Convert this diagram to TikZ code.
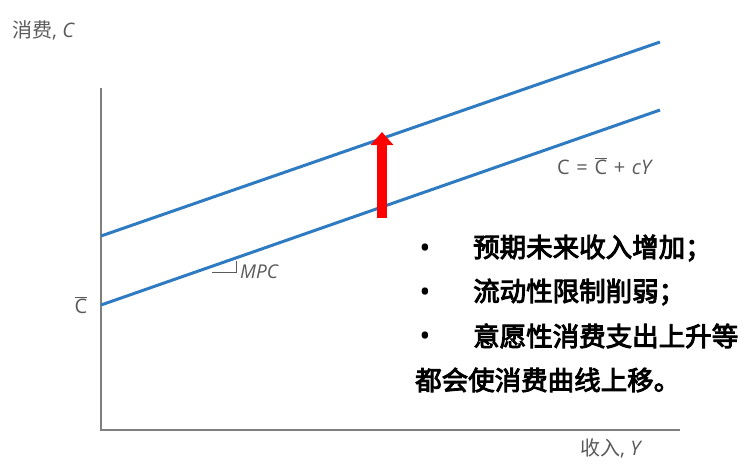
\documentclass[tikz,border=0pt]{standalone}
\usepackage{fontspec}
\setmainfont{Open Sans}
\newfontfamily\cjk{Noto Sans CJK SC}
\newfontfamily\cjkb{Noto Sans CJK SC}[FakeBold=3.5]
\usetikzlibrary{arrows.meta}
\definecolor{lineblue}{HTML}{2F7BC2}
\definecolor{axisgray}{HTML}{7F7F7F}
\definecolor{txtgray}{HTML}{5A5A5A}
\tikzset{
  axis/.style={draw=axisgray, line width=1.5pt},
  curve/.style={draw=lineblue, line width=3pt},
  lbl/.style={text=txtgray, font=\fontsize{20}{22}\selectfont, inner sep=0pt},
  bul/.style={anchor=west, font=\cjkb\fontsize{26.5}{28}\selectfont, inner sep=0pt},
  dot/.style={anchor=center, font=\fontsize{30}{30}\selectfont, inner sep=0pt}
}
\begin{document}
\begin{tikzpicture}[x=1pt,y=-1pt]
\useasboundingbox (0,0) rectangle (755,464);
% axes
\coordinate (o) at (101,430);
\coordinate (ytop) at (101,88);
\coordinate (xend) at (680,430);
\draw[axis] (ytop) -- (o) -- (xend);
% consumption lines
\coordinate (l1) at (101,305);
\coordinate (l2) at (660,110);
\coordinate (u1) at (101,236);
\coordinate (u2) at (660,42);
\draw[curve] (l1) -- (l2);
\draw[curve] (u1) -- (u2);
% MPC bracket
\coordinate (m1) at (212,272);
\coordinate (m2) at (236,272);
\coordinate (m3) at (236,261);
\draw[draw=txtgray, line width=1pt] (m1) -- (m2) -- (m3);
\node[lbl, anchor=west, font=\itshape\fontsize{19}{21}\selectfont] (mpc) at (240,272) {MPC};
% labels
\node[lbl, anchor=west] (ylab) at (12,30) {{\cjk 消费}, \textit{C}};
\node[lbl, anchor=west] (xlab) at (580,448) {{\cjk 收入}, \textit{Y}};
\node[lbl, anchor=west] (eq) at (557,166) {C\,\,=\,\,$\overline{\mbox{C}}$\,\,+\,\,\textit{cY}};
\node[lbl] (cbar) at (81,305) {$\overline{\mbox{C}}$};
% red arrow
\coordinate (a1) at (382,218);
\coordinate (a2) at (382,132);
\draw[red, line width=10pt, -{Triangle[length=13pt,width=22pt]}] (a1) -- (a2);
% bullet text
\node[dot] (b1) at (425,251) {•};
\node[bul] (t1) at (473,248) {预期未来收入增加；};
\node[dot] (b2) at (425,295) {•};
\node[bul] (t2) at (473,292) {流动性限制削弱；};
\node[dot] (b3) at (425,339) {•};
\node[bul] (t3) at (473,336) {意愿性消费支出上升等};
\node[bul] (t4) at (415,380) {都会使消费曲线上移。};
\end{tikzpicture}
\end{document}
